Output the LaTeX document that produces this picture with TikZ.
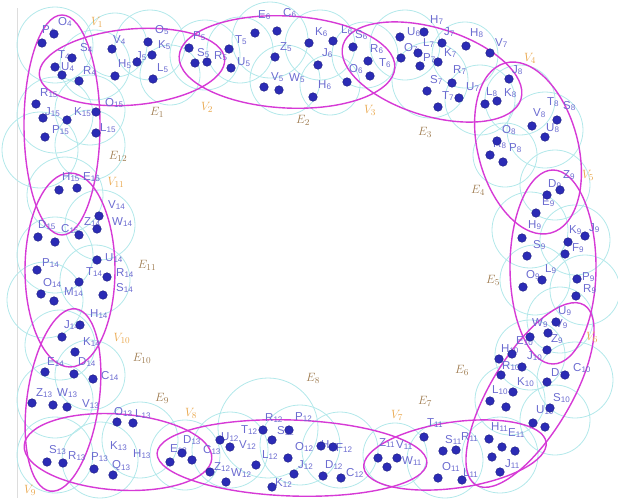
\documentclass[tikz,border=0pt]{standalone}
\usepackage{fontspec}
\setsansfont{Liberation Sans}
\usepackage{tikz}
\definecolor{dotA}{HTML}{2B2BB5}
\definecolor{labA}{HTML}{6B6BD0}
\definecolor{edgeA}{HTML}{D63AD6}
\definecolor{ringA}{HTML}{B2E8EA}
\definecolor{vlabA}{HTML}{E9A64A}
\definecolor{elabA}{HTML}{9E7B4F}
\definecolor{frameA}{HTML}{DDDDDD}
\tikzset{
  ring/.style={draw=ringA, line width=0.8pt},
  hedge/.style={draw=edgeA, line width=1.4pt},
  vert/.style={fill=dotA, draw=dotA!70!black, line width=0.4pt},
  ptlabel/.style={anchor=west, inner sep=0pt, text=labA,
    font=\sffamily\fontsize{11.5}{12}\selectfont},
  vlabel/.style={text=vlabA, inner sep=0pt, font=\fontsize{13}{13}\selectfont},
  elabel/.style={text=elabA, inner sep=0pt, font=\fontsize{13}{13}\selectfont}
}

\begin{document}
\begin{tikzpicture}[x=1pt, y=-1pt]
  \useasboundingbox (0,0) rectangle (618,498);
  \draw[frameA, line width=1pt] (17,8) -- (17,498);

  % covering discs
  \foreach \x/\y/\r in {
    55/45/38, 95/65/35, 115/45/32, 150/45/35, 170/75/30, 205/55/35,
    240/50/33, 270/40/38, 285/80/35, 320/45/35, 330/85/30, 365/55/33,
    405/45/35, 430/80/38, 465/55/33, 480/100/35,
    520/100/35, 545/130/38, 505/155/32, 555/185/35, 530/230/38, 575/240/35,
    535/280/35, 585/290/35, 560/320/33, 530/355/35, 575/380/38, 510/400/35,
    555/420/35,
    500/455/38, 445/460/38, 395/455/32, 340/450/38, 300/445/40, 268/428/50,
    230/450/38, 185/455/35, 140/440/38, 100/460/38, 55/455/38,
    55/400/38, 90/375/35, 60/345/35, 45/300/38, 95/280/35, 55/255/38,
    100/225/35, 65/195/38, 40/150/38, 90/145/35, 55/115/38, 90/110/35}
    \draw[ring] (\x,\y) circle (\r);

  % hyperedges
  \draw[hedge] (62,125) ellipse (38 and 110);
  \draw[hedge, rotate around={5:(132,67)}] (132,67) ellipse (93 and 38);
  \draw[hedge, rotate around={-3:(287,62)}] (287,62) ellipse (108 and 46);
  \draw[hedge, rotate around={-17:(432,72)}] (432,72) ellipse (93 and 44);
  \draw[hedge, rotate around={-75:(528,148)}] (528,148) ellipse (88 and 50);
  \draw[hedge] (553,267) ellipse (43 and 97);
  \draw[hedge, rotate around={59:(530,395)}] (530,395) ellipse (105 and 40);
  \draw[hedge, rotate around={8:(455,455)}] (455,455) ellipse (92 and 33);
  \draw[hedge, rotate around={-2:(292,458)}] (292,458) ellipse (135 and 38);
  \draw[hedge, rotate around={-4:(118,452)}] (118,452) ellipse (94 and 38);
  \draw[hedge, rotate around={-8:(63,400)}] (63,400) ellipse (36 and 92);
  \draw[hedge] (70,270) ellipse (45 and 97);

  % point names
  \foreach \x/\y/\a/\b [count=\i] in {
    47/30/P/4, 63/22/O/4, 85/48/S/4, 63/55/T/4, 66/67/U/4, 88/71/R/4,
    118/40/V/4, 160/30/O/5, 163/45/K/5, 141/56/J/5, 123/64/H/5, 162/68/L/5,
    198/36/P/5, 202/53/S/5, 219/56/R/5,
    240/40/T/5, 242/62/U/5, 263/15/E/6, 288/13/C/6, 285/47/Z/5, 276/77/V/5,
    294/78/W/5, 320/32/K/6, 346/30/L/6, 327/53/J/6, 323/85/H/6,
    360/35/S/6, 375/49/R/6, 384/63/T/6, 354/69/O/6,
    412/32/U/6, 435/20/H/7, 449/32/J/7, 428/43/L/7, 409/48/O/7, 428/58/P/7,
    449/53/K/7, 475/33/H/8, 500/43/V/7, 458/70/R/7, 435/80/S/7, 471/87/U/7,
    447/96/T/7,
    517/70/J/8, 509/93/K/8, 491/92/L/8,
    552/102/T/8, 568/106/S/8, 538/113/V/8, 551/128/U/8, 507/130/O/8,
    498/144/R/8, 514/148/P/8,
    553/184/D/9, 568/175/Z/9, 547/202/E/9,
    533/225/H/9, 538/245/S/9, 574/230/K/9, 594/228/J/9, 577/248/F/9,
    531/275/O/9, 550/269/L/9, 587/277/P/9, 588/289/R/9,
    563/311/U/9, 560/324/V/9, 537/323/W/9, 556/339/Z/9,
    521/341/E/10, 506/349/H/10, 532/356/J/10, 507/366/R/10, 578/368/C/10,
    556/373/D/10, 522/382/K/10, 497/390/L/10, 558/398/S/10, 541/410/U/10,
    496/427/H/11, 513/433/E/11, 510/464/J/11,
    432/423/T/11, 450/440/S/11, 466/437/R/11, 447/467/O/11, 468/473/L/11,
    384/443/Z/11, 401/445/V/11, 407/461/W/11,
    226/437/U/12, 244/445/V/12, 246/430/T/12, 270/418/R/12, 282/431/S/12,
    300/417/P/12, 219/467/Z/12, 236/473/W/12, 267/455/L/12, 300/447/O/12,
    303/465/J/12, 280/483/K/12, 326/445/H/12, 341/448/F/12, 330/465/D/12,
    351/473/C/12,
    188/440/D/13, 208/450/C/13, 175/449/E/13,
    119/412/O/13, 140/414/L/13, 115/446/K/13, 138/454/H/13, 96/457/P/13,
    117/466/Q/13, 54/450/S/13, 73/456/R/13,
    41/393/Z/13, 62/393/W/13, 87/404/V/13,
    52/362/E/14, 83/362/D/14, 106/376/C/14,
    95/314/H/14, 69/325/J/14, 88/342/K/14,
    113/205/V/14, 117/222/W/14, 43/225/D/15, 66/229/C/15, 89/222/Z/14,
    110/258/U/14, 47/263/P/14, 91/272/T/14, 121/273/R/14, 48/283/O/14,
    69/292/M/14, 121/288/S/14,
    67/177/H/15, 88/177/E/15,
    45/93/R/15, 50/112/J/15, 79/112/K/15, 57/130/P/15, 110/103/O/15,
    105/128/L/15}
    \node[ptlabel] (n\i) at (\x-5,\y) {\a\textsubscript{\b}};

  % points
  \foreach \x/\y in {
    42/43, 54/34, 55/67, 62/75, 72/58, 79/81,
    112/49, 148/42, 152/55, 137/62, 115/76, 153/79,
    189/48, 195/63, 207/62,
    229/49, 231/68, 255/33, 277/31, 275/57, 264/87, 279/90, 309/43, 333/41,
    318/65, 313/97,
    353/47, 368/61, 370/76, 347/82,
    400/37, 424/32, 442/43, 401/58, 418/53, 420/66, 438/62, 466/46, 490/53,
    452/83, 427/91, 459/98, 438/107,
    509/79, 485/104, 497/101,
    557/120, 532/126, 545/137, 497/141, 490/155, 503/162,
    547/195, 560/190, 536/213,
    522/238, 527/256, 585/236, 568/242, 565/254, 523/287, 542/280, 577/279,
    576/296,
    556/322, 548/333, 530/337, 547/350,
    512/354, 499/359, 522/367, 501/375, 565/375, 547/382, 513/392, 490/401,
    506/407, 550/408, 533/423, 545/427,
    489/439, 502/447, 515/451, 492/457, 500/472,
    424/437, 443/451, 456/450, 438/478, 462/480,
    378/458, 387/467, 397/458,
    321/446, 333/447, 323/476, 341/478, 220/440, 230/447, 263/430, 289/430,
    272/440, 256/465, 288/458, 294/474, 272/487, 210/472, 226/482,
    182/453, 192/460, 170/462,
    117/422, 133/423, 94/469, 113/475,
    47/462, 63/463,
    32/403, 53/405, 67/407, 45/372, 74/374, 93/379,
    80/325, 62/337, 75/352,
    38/237, 55/242, 79/235, 97/229, 99/216, 97/260, 37/270, 107/277,
    79/282, 41/294, 54/301, 103/295,
    59/190, 77/188,
    36/104, 43/118, 67/120, 45/137, 96/112, 96/133}
    \draw[vert] (\x,\y) circle (4.3);

  % vertex and edge names
  \foreach \x/\y/\k in {97/22/1, 207/107/2, 370/110/3, 530/58/4, 588/175/5,
    592/337/6, 397/415/7, 191/413/8, 30/490/9, 122/338/10, 116/182/11}
    \node[vlabel] (v\k) at (\x,\y) {$V_{\k}$};
  \foreach \x/\y/\k in {157/112/1, 303/120/2, 425/132/3, 478/190/4,
    493/280/5, 462/370/6, 425/401/7, 313/378/8, 162/398/9, 142/358/10,
    147/265/11, 118/156/12}
    \node[elabel] (e\k) at (\x,\y) {$E_{\k}$};
\end{tikzpicture}
\end{document}
